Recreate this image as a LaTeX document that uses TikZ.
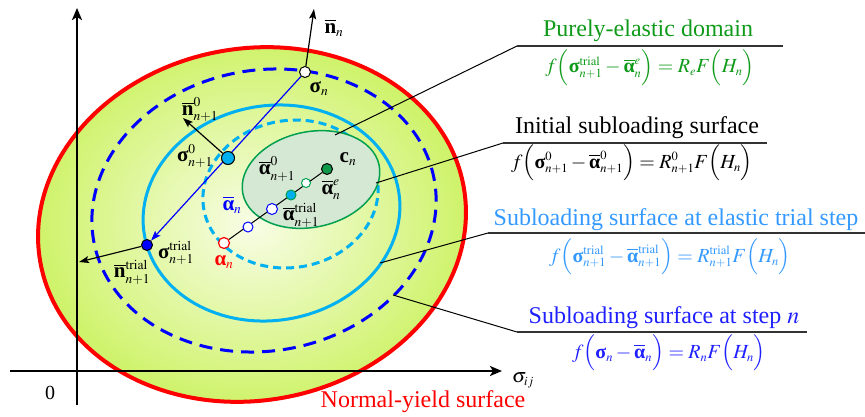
\documentclass[tikz,border=0pt]{standalone}
\usepackage{amsmath}
\usepackage{mathptmx}
\usepackage{fontspec}
\setmainfont{Liberation Serif}
\usetikzlibrary{arrows.meta}
\DeclareMathSizes{20}{20}{12.5}{9}
\DeclareMathSizes{21}{21}{13.5}{10}
\DeclareMathSizes{24}{24}{16}{12}
\definecolor{cyanL}{HTML}{00B0F0}
\definecolor{greenE}{HTML}{00A050}
\definecolor{greenT}{HTML}{109A1A}
\definecolor{trialT}{HTML}{3399FF}
\definecolor{stepT}{HTML}{1F1FFF}
\definecolor{fillOut}{HTML}{CCF262}
\definecolor{fillIn}{HTML}{F8FDE6}
\definecolor{fillGr}{HTML}{D5E8D3}
\definecolor{ptGreen}{HTML}{0E9A48}
\newcommand\bsig{\text{\bfseries σ}}
\newcommand\balp{\text{\bfseries α}}
\newcommand\bnn{\text{\bfseries n}}
\newcommand\bcc{\text{\bfseries c}}
\newcommand\obalp{\overline{\balp}}
\newcommand\obn{\overline{\bnn}}
\pgfdeclarelayer{back}
\pgfdeclarelayer{mid}
\pgfsetlayers{back,mid,main}
\begin{document}
\begin{tikzpicture}[x=1pt,y=-1pt,
  pt/.style={circle,draw=black,line width=1pt,inner sep=0pt,minimum size=11pt},
  lab/.style={inner sep=0pt,font=\fontsize{21}{23}\selectfont},
  ttl/.style={inner sep=0pt,font=\fontsize{24}{26}\selectfont},
  frm/.style={inner sep=0pt,font=\fontsize{20}{22}\selectfont},
  leader/.style={draw=black,line width=1pt},
  rule/.style={draw=black!80,line width=1.6pt},
  axis/.style={line width=2.5pt,-{Stealth[length=12pt,width=10pt,inset=3pt]}},
  vec/.style={line width=1.2pt,-{Stealth[length=10pt,width=7pt,inset=2pt]}}]
\useasboundingbox (0,0) rectangle (865,417);
\begin{pgfonlayer}{back}
% normal-yield surface
\shade[rotate around={10:(252,224.5)},inner color=fillIn,outer color=fillOut]
  (252,224.5) ellipse [x radius=215pt,y radius=176pt];
\draw[rotate around={10:(252,224.5)},red,line width=4pt]
  (252,224.5) ellipse [x radius=215pt,y radius=176pt];
% subloading surface at step n
\draw[rotate around={10:(264,210.5)},blue,line width=3pt,dash pattern=on 13pt off 8pt]
  (264,210.5) ellipse [x radius=173pt,y radius=140.4pt];
% subloading surface at elastic trial step
\draw[rotate around={10:(271.5,213)},cyanL,line width=3pt]
  (271.5,213) ellipse [x radius=129pt,y radius=107.3pt];
% initial subloading surface
\draw[rotate around={10:(290.5,194)},cyanL,line width=3pt,dash pattern=on 8pt off 5pt]
  (290.5,194) ellipse [x radius=88pt,y radius=73.5pt];
% purely-elastic domain
\draw[rotate around={12:(311,179.5)},greenE,line width=1.5pt,fill=fillGr]
  (311,179.5) ellipse [x radius=69.6pt,y radius=47.7pt];
% axes
\coordinate (vB) at (77,405);
\coordinate (vT) at (77,8);
\coordinate (hL) at (10,371);
\coordinate (hR) at (502,371);
\draw[axis] (vB) -- (vT);
\draw[axis] (hL) -- (hR);
\end{pgfonlayer}
% points
\node[pt,fill=white] (sn) at (305,72) {};
\node[pt,fill=cyanL,minimum size=13pt] (s0) at (228,158) {};
\node[pt,fill=blue] (st) at (147,245) {};
\node[pt,fill=white,draw=red,line width=1.2pt] (an) at (224,243) {};
\node[pt,fill=white,draw=blue,minimum size=10pt] (abn) at (248,227) {};
\node[pt,fill=white,draw=blue] (abt) at (272,209) {};
\node[pt,fill=cyanL,draw=greenE,minimum size=10pt] (ab0) at (291,195) {};
\node[pt,fill=white,draw=greenE,minimum size=9pt] (abe) at (306,183) {};
\node[pt,fill=ptGreen] (cn) at (327,169) {};
\coordinate (nnT) at (314,9);
\coordinate (n0T) at (183,118);
\coordinate (ntT) at (79,262);
\begin{pgfonlayer}{mid}
\draw[vec,blue] (sn) -- (st);
\draw[vec] (sn) -- (nnT);
\draw[vec] (s0) -- (n0T);
\draw[vec] (st) -- (ntT);
\draw[line width=1pt] (an) -- (cn);
\end{pgfonlayer}
% point labels
\node[lab] (lsn) at (319,89) {$\bsig_{n}$};
\node[lab] (lnn) at (334,28) {$\obn_{n}$};
\node[lab] (ln0) at (200,110) {$\obn^{0}_{n+1}$};
\node[lab] (ls0) at (195,156) {$\bsig^{0}_{n+1}$};
\node[lab] (lab0) at (277,169) {$\obalp^{0}_{n+1}$};
\node[lab] (lcn) at (348,159) {$\bcc_{n}$};
\node[lab] (labe) at (331,190) {$\obalp^{e}_{n}$};
\node[lab] (labt) at (301,215) {$\obalp^{\mathrm{trial}}_{n+1}$};
\node[lab,text=blue] (labn) at (232,205) {$\obalp_{n}$};
\node[lab,text=red] (lan) at (224,262) {$\balp_{n}$};
\node[lab] (lst) at (176,253) {$\bsig^{\mathrm{trial}}_{n+1}$};
\node[lab] (lnt) at (132,272) {$\obn^{\mathrm{trial}}_{n+1}$};
\node[frm] (zero) at (50,393) {0};
\node[frm] (sij) at (523,380) {$\sigma_{ij}$};
\node[ttl,text=red] (nys) at (423,402) {Normal-yield surface};
% purely-elastic domain
\node[ttl,text=greenT] (peT) at (648,31) {Purely-elastic domain};
\node[frm,text=greenT] (peF) at (650,68) {$f\Bigl(\bsig^{\mathrm{trial}}_{n+1}-\obalp^{e}_{n}\Bigr)=R_{e}F\Bigl(H_{n}\Bigr)$};
\coordinate (peP) at (335,135);
\coordinate (peL) at (517,46);
\coordinate (peR) at (783,46);
\draw[leader] (peP) -- (peL);
\draw[rule] (peL) -- (peR);
% initial subloading surface
\node[ttl] (inT) at (637,128) {Initial subloading surface};
\node[frm] (inF) at (632,163) {$f\Bigl(\bsig^{0}_{n+1}-\obalp^{0}_{n+1}\Bigr)=R^{0}_{n+1}F\Bigl(H_{n}\Bigr)$};
\coordinate (inP) at (376,183);
\coordinate (inL) at (503,143);
\coordinate (inR) at (767,143);
\draw[leader] (inP) -- (inL);
\draw[rule] (inL) -- (inR);
% subloading surface at elastic trial step
\node[ttl,text=trialT] (trT) at (676,220) {Subloading surface at elastic trial step};
\node[frm,text=trialT] (trF) at (670,257) {$f\Bigl(\bsig^{\mathrm{trial}}_{n+1}-\obalp^{\mathrm{trial}}_{n+1}\Bigr)=R^{\mathrm{trial}}_{n+1}F\Bigl(H_{n}\Bigr)$};
\coordinate (trP) at (380,263);
\coordinate (trL) at (488,233);
\coordinate (trR) at (865,233);
\draw[leader] (trP) -- (trL);
\draw[rule] (trL) -- (trR);
% subloading surface at step n
\node[ttl,text=stepT] (snT) at (664,318) {Subloading surface at step $n$};
\node[frm,text=stepT] (snF) at (669,353) {$f\Bigl(\bsig_{n}-\obalp_{n}\Bigr)=R_{n}F\Bigl(H_{n}\Bigr)$};
\coordinate (snP) at (393,295);
\coordinate (snL) at (517,332);
\coordinate (snR) at (807,332);
\draw[leader] (snP) -- (snL);
\draw[rule] (snL) -- (snR);
\end{tikzpicture}
\end{document}
